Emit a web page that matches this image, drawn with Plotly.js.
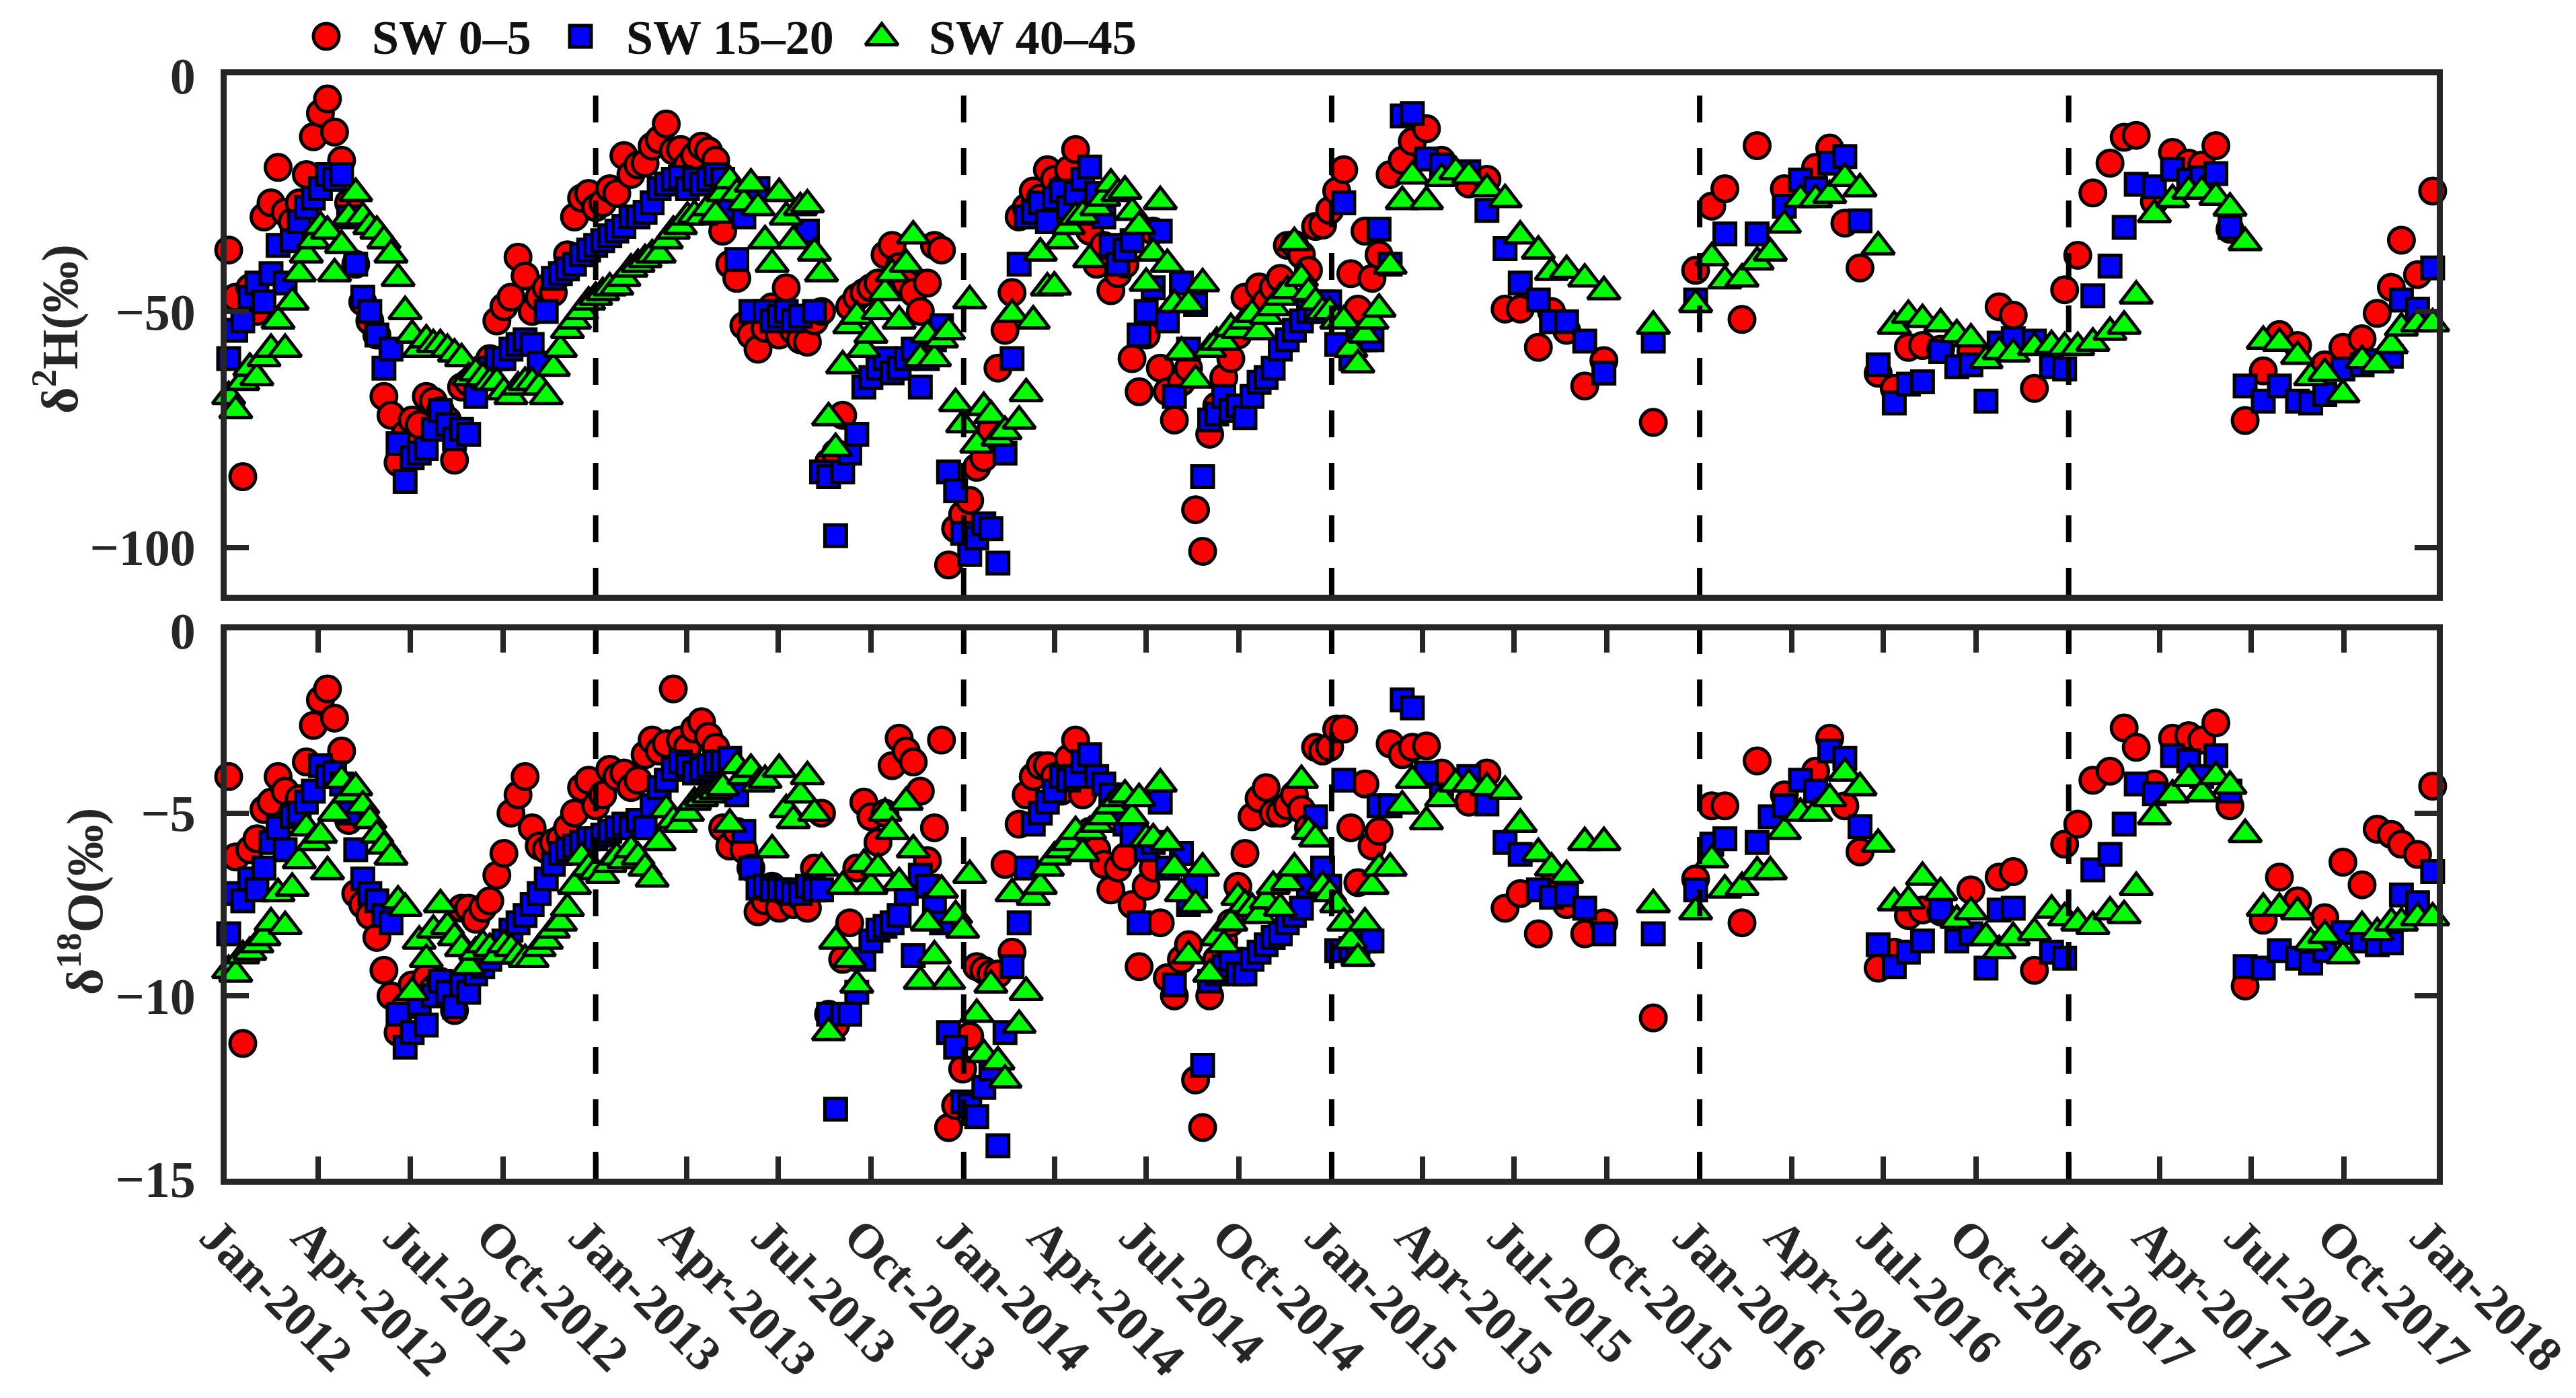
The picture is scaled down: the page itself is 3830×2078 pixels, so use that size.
<!DOCTYPE html>
<html>
<head>
<meta charset="utf-8">
<script src="https://cdn.plot.ly/plotly-3.0.1.min.js"></script>
<style>html,body{margin:0;padding:0;background:#fff;}#chart{width:3830px;height:2078px;}</style>
</head>
<body>
<div id="chart"></div>
<script>
// ---------------- DATA ----------------
// weekly sampling period (Jan 2012 - Feb 2015)
const denseDates = [
'2012-01-03','2012-01-10','2012-01-17','2012-01-24','2012-01-31',
'2012-02-07','2012-02-14','2012-02-21','2012-02-28',
'2012-03-06','2012-03-13','2012-03-20','2012-03-27',
'2012-04-03','2012-04-10','2012-04-17','2012-04-24',
'2012-05-01','2012-05-08','2012-05-15','2012-05-22','2012-05-29',
'2012-06-05','2012-06-12','2012-06-19','2012-06-26',
'2012-07-03','2012-07-10','2012-07-17','2012-07-24','2012-07-31',
'2012-08-07','2012-08-14','2012-08-21','2012-08-28',
'2012-09-04','2012-09-11','2012-09-18','2012-09-25',
'2012-10-02','2012-10-09','2012-10-16','2012-10-23','2012-10-30',
'2012-11-06','2012-11-13','2012-11-20','2012-11-27',
'2012-12-04','2012-12-11','2012-12-18','2012-12-25',
'2013-01-01','2013-01-08','2013-01-15','2013-01-22','2013-01-29',
'2013-02-05','2013-02-12','2013-02-19','2013-02-26',
'2013-03-05','2013-03-12','2013-03-19','2013-03-26',
'2013-04-02','2013-04-09','2013-04-16','2013-04-23','2013-04-30',
'2013-05-07','2013-05-14','2013-05-21','2013-05-28',
'2013-06-04','2013-06-11','2013-06-18','2013-06-25',
'2013-07-02','2013-07-09','2013-07-16','2013-07-23','2013-07-30',
'2013-08-06','2013-08-13','2013-08-20','2013-08-27',
'2013-09-03','2013-09-10','2013-09-17','2013-09-24',
'2013-10-01','2013-10-08','2013-10-15','2013-10-22','2013-10-29',
'2013-11-05','2013-11-12','2013-11-19','2013-11-26',
'2013-12-03','2013-12-10','2013-12-17','2013-12-24','2013-12-31',
'2014-01-07','2014-01-14','2014-01-21','2014-01-28',
'2014-02-04','2014-02-11','2014-02-18','2014-02-25',
'2014-03-04','2014-03-11','2014-03-18','2014-03-25',
'2014-04-01','2014-04-08','2014-04-15','2014-04-22','2014-04-29',
'2014-05-06','2014-05-13','2014-05-20','2014-05-27',
'2014-06-03','2014-06-10','2014-06-17','2014-06-24',
'2014-07-01','2014-07-08','2014-07-15','2014-07-22','2014-07-29',
'2014-08-05','2014-08-12','2014-08-19','2014-08-26',
'2014-09-02','2014-09-09','2014-09-16','2014-09-23','2014-09-30',
'2014-10-07','2014-10-14','2014-10-21','2014-10-28',
'2014-11-04','2014-11-11','2014-11-18','2014-11-25',
'2014-12-02','2014-12-09','2014-12-16','2014-12-23','2014-12-30',
'2015-01-06','2015-01-13','2015-01-20','2015-01-27',
'2015-02-03','2015-02-10','2015-02-17'
];
// sparse sampling period (Feb 2015 - Dec 2017)
const sparseDates = [
'2015-02-28','2015-03-12','2015-03-22','2015-04-05','2015-04-20','2015-05-04','2015-05-17',
'2015-06-04','2015-06-22','2015-07-07','2015-07-25','2015-08-07','2015-08-22','2015-09-09',
'2015-09-28','2015-11-16','2015-12-28',
'2016-01-13','2016-01-26','2016-02-12','2016-02-27','2016-03-11','2016-03-25','2016-04-10',
'2016-04-25','2016-05-09','2016-05-24','2016-06-08','2016-06-26','2016-07-12','2016-07-26',
'2016-08-09','2016-08-27','2016-09-12','2016-09-26','2016-10-11','2016-10-24','2016-11-07',
'2016-11-28','2016-12-15','2016-12-28',
'2017-01-10','2017-01-25','2017-02-11','2017-02-25','2017-03-09','2017-03-27','2017-04-14',
'2017-04-30','2017-05-13','2017-05-27','2017-06-10','2017-06-25','2017-07-13','2017-07-29',
'2017-08-16','2017-08-29','2017-09-12','2017-09-30','2017-10-19','2017-11-03','2017-11-17',
'2017-11-27','2017-12-13','2017-12-28'
];

// δ2H, SW 0-5
const h05Dense = [
-37,-47,-85,-45,-50,-30,-27,-19.5,-29,-31,
-27,-21,-13,-8,-5,-12,-18,-27,-40,-48,
-52,-55,-68,-72,-82,-76,-73,-74,-68,-69,
-71,-73,-81.5,-66,-65,-64,-62,-60,-52,-49,
-47,-38.5,-42.5,-50,-47,-45,-46,-42,-38,-30,
-26,-25,-28,-27,-24,-25,-17,-21,-19,-18.6,
-15,-13.6,-10.3,-16,-15.7,-19,-17,-15,-16,-18,
-33,-40,-43,-53,-55,-58,-53.6,-49,-55,-45,
-54,-56,-56.5,-52,-50,-82,-80,-72,-49,-47,
-46,-45,-44,-38,-36,-40.5,-44,-46,-50,-44,
-36,-37,-103.7,-96,-93,-90,-83,-81,-75,-62,
-54,-46,-30,-28,-24.5,-26,-20,-22,-24,-20,
-15.7,-28,-33,-40,-36,-45.6,-42,-40,-60,-67,
-55,-33,-62,-67,-73,-65,-62,-92,-100.8,-76,
-70,-64,-60,-55,-47,-52,-44.8,-48,-45,-43,
-36,-35.8,-38,-41.3,-32,-31.7,-28.6,-24.5,-20,-42,
-49.5,-33,-43,-38
];
const h05Sparse = [
-21,-18,-14,-11.3,-18,null,-23,-22,-49.5,-49.5,-57.6,-50,-54,-65.8,-60.4,-73.5,-41.3,
-27.7,-24,-51.7,-14.9,null,-24,null,-19.5,-15.4,-31.3,-40.8,-63.1,-66.3,-57.6,-57.2,-58,null,
-58.5,null,-49,-50.8,-66.3,null,-45.4,
-38.1,-24.9,-18.6,-13.1,-12.7,-26.7,-16.3,-18.6,-19,-14.9,-32.6,-73.1,-62.6,-54.9,-57.2,null,
-61.3,-57.6,-55.8,-50.4,-44.9,-34.9,-42.2,-24.5
];
// δ2H, SW 15-20
const h15Dense = [
-60,-54,-52,-47,-44,-48,-42,-36,-44,-35,
-31,-28,-26,-24,-21,-22,-21,-30,-40,-47,
-50,-55,-62,-58,-78,-86,-81,-80,-79,-75,
-71,-74,-77,-75,-76,-68,-64,-62,-60,-60,
-58,-57,-56,-57,-61,-50,-43,-42,-41,-40,
-38,-37,-36,-35,-34,-33,-32,-30,-30,-29,
-27,-24,-23,-22,-21.6,-24,-22,-23,-22,-21,
-22,-28,-39,-30,-50,-24,-50,-52,-51,-50,
-52,-51,-33,-50,-84,-85,-97.5,-84,-80,-76,
-66,-64,-62,-60,-63,-62,-60,-58,-66,-60,
-56,-53,-84,-88,-97,-101.5,-98,-95,-96,-103.3,
-80,-60,-40,-30,-29,-27,-31,-26,-24.5,-28,
-25,-22,-19.4,-25,-30,-36,-40,-37,-35,-55,
-50,-45,-33,-52,-68,-44,-58,-48.5,-85,-73,
-71.7,-68,-71,-70,-72.5,-68,-65,-64,-62,-58,
-56,-54,-52,-50,-50,-48,-48,-57,-27,-60,
-56,-56,-56,-32.6
];
const h15Sparse = [
-40,-8.6,-8.1,-17.7,-19,null,-20.4,-28.6,-36.7,-44,-47.6,-52.2,-52.2,-56.3,-63.1,-56.3,-47.6,
null,-33.6,null,-33.6,null,-27.7,-22.2,-24,-18.6,-17.2,-30.8,-61.3,-69.4,-65.4,-64.9,-58.5,-61.7,
-61.3,-69,-56.7,-55.8,-56.3,-61.7,-62.2,
null,-46.7,-40.4,-32.2,-23.1,-23.6,-19.9,-22.2,-21.7,-20.8,-32.2,-65.8,-69,-65.8,-69,-69.4,
-67.6,-62.2,-61.3,-60.4,-59.5,-47.6,-49.5,-40.8
];
// δ2H, SW 40-45
const h40Dense = [
-68,-71,-65,-62,-64,-60,-58,-52,-58,-48,
-42,-38,-35,-32,-33,-42,-36,-30,-25,-30,
-32,-33,-35,-38,-43,-50,-55,-58,-56,-57,
-57,-58,-59,-60,-64,-63,-64,-65,-65,-67,
-68,-66,-65,-65,-66,-68,-62,-58,-54,-52,
-50,-48,-47,-46,-45,-44.8,-43,-41,-40,-39,
-38,-38,-35,-33,-32,-30,-29.6,-30,-28,-29.6,
-25,-22.3,-25,-27,-23,-28,-35,-40,-25,-30,
-35,-28,-27.4,-37.6,-42,-72.5,-79,-61.5,-53,-51,
-58,-55,-50,-46,-42,-52,-40,-34,-60,-55,
-60,-56,-54.3,-69.5,-74,-47.7,-78.3,-70.3,-72,-76.8,
-75.4,-50.6,-73.2,-67.4,-52,-37.6,-45,-44.8,-35,-32,
-30,-29.6,-39,-28,-26,-23,-25,-24.5,-29,-32,
-44,-37.6,-26.7,-40,-48.5,-58.6,-48.5,-64.5,-44.1,-58,
-56.5,-56.5,-53.6,-54,-52,-50.6,-54.3,-51,-49.2,-47,
-45.6,-35.4,-43,-46,-48,-50,-50,-52,-52,-58,
-61.3,-55,-52,-49.5
];
const h40Sparse = [
-40.4,-26.7,-21.3,-26.7,-21.8,-20.4,-21.3,-24,-26.3,-34,-37.2,-41.7,-41.3,-43.1,-45.8,-53.1,-48.5,
-38.6,-43.5,-43.1,-39.5,-37.6,-31.7,-26.3,-26.3,-25.4,-21.8,-24,-36.3,-53.1,-50.8,-51.7,-52.6,-54.9,
-55.8,-60.4,-58.5,-59,-57.6,-57.2,-57.6,
-57.6,-56.7,-54.4,-53.1,-46.7,-29.5,-26.3,-24.5,-24.5,-25.8,-28.1,-35.4,-56.3,-56.7,-59.5,-64,
-63.1,-67.6,-60.4,-61.3,-57.2,-53.5,-52.6,-52.6
];

// δ18O, SW 0-5
const o05Dense = [
-4.0,-6.2,-11.3,-6.0,-5.7,-4.9,-4.7,-4.0,-4.4,-5.0,
-4.6,-3.6,-2.6,-1.9,-1.6,-2.4,-3.3,-5.2,-7.2,-7.5,
-7.8,-8.4,-9.3,-10.0,-11.0,-10.3,-9.7,-10.0,-9.5,-9.8,
-9.6,-9.9,-10.4,-7.6,-7.6,-7.9,-7.6,-7.4,-6.7,-6.1,
-5.0,-4.5,-4.0,-5.4,-5.9,-6.0,-5.8,-5.7,-5.4,-5.0,
-4.3,-4.1,-4.8,-4.5,-3.8,-4.0,-3.9,-4.3,-4.1,-3.4,
-3.0,-3.3,-3.1,-1.6,-3.0,-3.2,-2.7,-2.5,-2.9,-3.2,
-5.4,-5.9,-5.5,-6.0,-6.5,-7.7,-7.4,-7.0,-7.6,-7.2,
-7.5,-7.3,-7.6,-6.5,-5.0,-10.5,-10.8,-9.0,-8.0,-6.5,
-4.7,-5.1,-5.8,-5.0,-3.7,-2.95,-3.3,-3.6,-4.4,-6.3,
-5.4,-3.0,-13.6,-13.0,-12.0,-11.1,-9.2,-9.3,-9.4,-9.4,
-6.4,-8.8,-5.3,-4.5,-4.0,-3.7,-3.7,-4.0,-4.4,-3.5,
-3.0,-4.5,-5.5,-6.0,-6.4,-7.1,-6.5,-6.2,-7.5,-9.2,
-7.0,-6.5,-8.0,-9.5,-10.0,-9.0,-8.6,-12.3,-13.6,-10.0,
-9.0,-8.5,-8.0,-7.0,-6.1,-5.1,-4.6,-4.3,-5.0,-5.0,
-4.8,-4.5,-4.9,-5.4,-3.2,-3.3,-3.2,-2.7,-2.7,-5.4,
-6.9,-4.2,-5.9,-5.5
];
const o05Sparse = [
-3.1,-3.4,-3.2,-3.16,-3.9,null,-4.7,-3.9,-7.6,-7.2,-8.3,-7.0,-7.5,-8.3,-8.0,-10.6,-6.8,
-4.8,-4.8,-8.0,-3.57,null,-4.5,null,-3.85,-2.95,-4.8,-6.06,-9.24,-8.8,-7.8,-7.65,-7.7,null,
-7.1,null,-6.75,-6.6,-9.3,null,-5.85,
-5.3,-4.1,-3.85,-2.67,-3.2,-4.2,-2.95,-2.88,-3.0,-2.53,-4.8,-9.73,-7.93,-6.75,-7.4,null,
-7.86,-6.34,-6.96,-5.44,-5.58,-5.85,-6.13,-4.26
];
// δ18O, SW 15-20
const o15Dense = [
-8.3,-7.2,-7.4,-6.8,-7.1,-6.5,-5.8,-5.4,-6.0,-5.1,
-5.0,-4.7,-4.4,-3.7,-4.0,-3.9,-4.2,-5.0,-6.0,-6.8,
-7.2,-7.4,-7.8,-8.0,-10.5,-11.4,-11.0,-10.2,-10.8,-10.0,
-9.6,-9.9,-10.3,-9.7,-9.9,-9.4,-9.2,-9.0,-8.8,-8.5,
-8.2,-8.0,-7.8,-7.5,-7.2,-6.8,-6.4,-6.1,-6.0,-5.9,
-5.8,-5.7,-5.7,-5.6,-5.5,-5.4,-5.3,-5.4,-5.2,-5.4,
-4.8,-4.3,-4.1,-3.8,-3.6,-3.7,-3.9,-3.8,-3.7,-3.6,
-3.6,-3.5,-4.5,-5.5,-6.5,-7.05,-7.0,-7.1,-7.1,-7.1,
-7.2,-7.2,-7.0,-7.1,-7.1,-10.5,-13.1,-10.5,-10.5,-9.9,
-9.0,-8.5,-8.2,-8.1,-8.0,-7.8,-7.2,-8.9,-6.7,-7.0,
-7.5,-8.0,-11.0,-11.4,-12.9,-13.0,-13.3,-12.5,-12.0,-14.1,
-11.0,-9.2,-8.0,-6.5,-5.3,-5.0,-4.7,-4.4,-4.0,-4.1,
-4.0,-3.6,-3.4,-4.0,-4.2,-4.5,-5.0,-5.3,-5.6,-8.0,
-6.0,-5.8,-4.7,-6.5,-9.7,-6.1,-7.5,-7.0,-11.9,-9.6,
-9.4,-9.2,-9.0,-9.4,-9.4,-9.0,-8.8,-8.6,-8.4,-8.3,
-8.0,-7.8,-7.6,-7.0,-5.1,-6.5,-7.0,-8.76,-4.1,-8.7,
-8.7,-8.5,-8.5,-4.8
];
const o15Sparse = [
-4.8,-1.9,-2.12,-3.9,-4.5,null,-4.0,-4.75,-5.8,-6.13,-7.1,-7.3,-7.24,-7.6,-8.3,-8.3,-7.1,
-5.85,-5.7,null,-5.8,-5.1,-4.8,-4.1,-4.4,-3.3,-3.5,-5.37,-8.6,-9.2,-8.8,-8.5,-7.65,-8.5,
-8.3,-9.24,-7.65,-7.6,null,-8.8,-8.97,
null,-6.55,-6.13,-5.3,-4.2,-4.47,-3.43,-3.57,-4.0,-3.43,-4.4,-9.2,-9.24,-8.76,-8.97,-9.1,
-8.76,-8.27,-8.5,-8.6,-8.55,-7.24,-7.45,-6.6
];
// δ18O, SW 40-45
const o40Dense = [
-9.3,-9.4,-8.9,-8.8,-8.6,-8.4,-8.0,-7.2,-8.1,-7.05,
-6.3,-5.4,-5.8,-5.6,-6.6,-5.0,-4.1,-4.5,-4.3,-4.8,
-5.2,-5.6,-5.9,-6.2,-7.4,-7.6,-9.9,-8.5,-9.0,-8.2,
-7.5,-8.1,-8.4,-8.7,-9.2,-8.8,-8.6,-8.7,-8.9,-8.6,
-8.7,-8.9,-9.0,-9.0,-8.7,-8.5,-8.2,-8.0,-7.6,-7.0,
-6.2,-6.5,-6.6,-6.7,-6.4,-6.2,-6.3,-6.0,-6.2,-6.5,
-6.8,-5.8,-4.9,-5.2,-5.3,-5.0,-4.7,-4.6,-4.5,-4.4,
-4.3,-5.3,-3.7,-4.0,-3.8,-4.2,-4.1,-6.0,-3.8,-4.9,
-5.2,-4.5,-4.0,-5.0,-6.5,-11.0,-8.5,-7.0,-9.0,-9.7,
-6.4,-7.0,-6.5,-5.0,-5.5,-6.9,-4.7,-6.0,-9.6,-8.0,
-8.9,-7.1,-9.6,-7.8,-8.2,-6.7,-10.5,-11.6,-9.7,-11.8,
-12.3,-7.2,-10.8,-9.9,-7.3,-7.0,-6.5,-6.2,-6.0,-5.8,
-5.5,-6.1,-5.5,-5.3,-5.1,-4.8,-4.6,-4.5,-5.1,-4.6,
-5.7,-5.7,-4.2,-5.8,-6.5,-7.2,-8.9,-7.5,-6.5,-9.4,
-8.4,-8.6,-8.0,-7.3,-7.5,-7.6,-7.8,-7.4,-7.0,-7.6,
-6.9,-6.5,-4.1,-5.5,-5.7,-7.0,-7.2,-7.5,-8.0,-8.5,
-8.97,-8.0,-7.0,-6.5
];
const o40Sparse = [
-6.5,-4.8,-4.1,-5.23,-4.6,-4.2,-4.2,-4.3,-4.4,-5.3,-6.1,-6.5,-6.7,-5.8,-5.8,-7.5,-7.7,
-6.27,-7.1,-7.03,-6.6,-6.6,-5.5,-5.0,-5.0,-4.6,-3.9,-4.3,-5.85,-7.45,-7.4,-6.75,-7.17,-7.93,
-7.7,-8.4,-8.76,-8.4,-8.27,-7.65,-7.86,
-8.0,-8.1,-7.7,-7.8,-7.03,-5.1,-4.5,-4.05,-4.47,-4.0,-4.26,-5.58,-7.6,-7.6,-7.7,-8.55,
-8.34,-8.9,-8.1,-8.27,-8.0,-8.0,-7.86,-7.86
];

const seriesNames = ['SW 0\u20135', 'SW 15\u201320', 'SW 40\u201345'];
const yTitles = ['\u03b4<sup>2</sup>H(\u2030)', '\u03b4<sup>18</sup>O(\u2030)'];
const yearBreaks = ['2013-01-01','2014-01-01','2015-01-01','2016-01-01','2017-01-01'];
const xRange = ['2012-01-01','2018-01-01 02:00'];
const hTicks = [-100, -50, 0];
const oTicks = [-15, -10, -5, 0];

// ---------------- BUILD ----------------
const dates = denseDates.concat(sparseDates);
const H = [h05Dense.concat(h05Sparse), h15Dense.concat(h15Sparse), h40Dense.concat(h40Sparse)];
const O = [o05Dense.concat(o05Sparse), o15Dense.concat(o15Sparse), o40Dense.concat(o40Sparse)];

const W = 3830, HT = 2078;
const styles = [
  {symbol:'circle', size:38, color:'#ff0000'},
  {symbol:'square', size:32, color:'#0000ff'},
  {symbol:'triangle-up', size:42, color:'#00ff00'}
];
const MLW = 5;
const FONT = 'Liberation Serif, Times New Roman, serif';
const INK = '#262626';

const traces = [];
[['x','y',H],['x2','y2',O]].forEach(([xa,ya,vals]) => {
  vals.forEach((v,k) => {
    traces.push({
      type:'scatter', mode:'markers', x:dates, y:v, xaxis:xa, yaxis:ya,
      name:seriesNames[k], showlegend:false, cliponaxis:false, hoverinfo:'skip',
      marker:{symbol:styles[k].symbol, size:styles[k].size, color:styles[k].color, opacity:1,
              line:{color:'#000000', width:MLW}}
    });
  });
});

// custom legend (keys drawn large like the reference)
const legX = [485, 863, 1311];
const legTextX = [551, 929, 1379];
const legY = 54;
traces.push({
  type:'scatter', mode:'markers', x:legX, y:[legY, legY, legY+2], xaxis:'x3', yaxis:'y3',
  showlegend:false, cliponaxis:false, hoverinfo:'skip',
  marker:{symbol:styles.map(s=>s.symbol), size:styles.map(s=>s.size), color:styles.map(s=>s.color),
          opacity:1, line:{color:'#000000', width:MLW}}
});

const px2x = p => p / W;
const px2y = p => 1 - p / HT;
const xDom = [px2x(337), px2x(3623)];
const yDomTop = [px2y(884), px2y(112)];
const yDomBot = [px2y(1752), px2y(937)];

const yTickFont = {family:FONT, size:76, color:INK, weight:'bold'};
const xTickFont = {family:FONT, size:73, color:INK, weight:'bold'};
const base = {showgrid:false, zeroline:false, showline:true, linecolor:INK, linewidth:9,
  tickcolor:INK, tickwidth:8, ticklen:33, ticks:'inside', tickfont:yTickFont};

const shapes = [];
yearBreaks.forEach(d => {
  [['x','y domain'],['x2','y2 domain']].forEach(([xr,yr]) => {
    shapes.push({type:'line', xref:xr, yref:yr, x0:d, x1:d, y0:0, y1:1, layer:'above',
      line:{color:'#000000', width:8, dash:'40px,38px'}});
  });
});

const annotations = seriesNames.map((t,k) => ({
  xref:'paper', yref:'paper', x:px2x(legTextX[k]), y:px2y(legY+2), xanchor:'left', yanchor:'middle',
  text:t, showarrow:false, font:{family:FONT, size:72, color:'#111111', weight:'bold'}
}));
// y-axis titles
[[84, 489], [121, 1340]].forEach(([cx, cy], k) => {
  annotations.push({xref:'paper', yref:'paper', x:px2x(cx), y:px2y(cy), xanchor:'center', yanchor:'middle',
    text:yTitles[k], textangle:-90, showarrow:false,
    font:{family:FONT, size:76, color:INK, weight:'bold'}});
});

const layout = {
  width:W, height:HT, margin:{l:0,r:0,t:0,b:0},
  paper_bgcolor:'#ffffff', plot_bgcolor:'rgba(0,0,0,0)', showlegend:false,
  font:{family:FONT, color:INK},
  xaxis:Object.assign({}, base, {domain:xDom, anchor:'y', type:'date', range:xRange,
    ticks:'', showticklabels:false, mirror:true}),
  xaxis2:Object.assign({}, base, {domain:xDom, anchor:'y2', type:'date', range:xRange,
    tick0:'2012-01-01', dtick:'M3', tickformat:'%b-%Y', tickangle:45, mirror:'ticks',
    tickfont:xTickFont, ticklabelstandoff:4, ticklabelshift:-18, ticklabeloverflow:'allow'}),
  yaxis:Object.assign({}, base, {domain:yDomTop, anchor:'x', range:[-110,0], tickvals:hTicks,
    mirror:'ticks', ticklabelstandoff:22}),
  yaxis2:Object.assign({}, base, {domain:yDomBot, anchor:'x2', range:[-15,0], tickvals:oTicks,
    mirror:'ticks', ticklabelstandoff:22}),
  xaxis3:{domain:[0,1], range:[0,W], visible:false, anchor:'y3', fixedrange:true},
  yaxis3:{domain:[0,1], range:[HT,0], visible:false, anchor:'x3', fixedrange:true},
  shapes:shapes, annotations:annotations
};

Plotly.newPlot('chart', traces, layout, {staticPlot:true, displayModeBar:false});
</script>
</body>
</html>
